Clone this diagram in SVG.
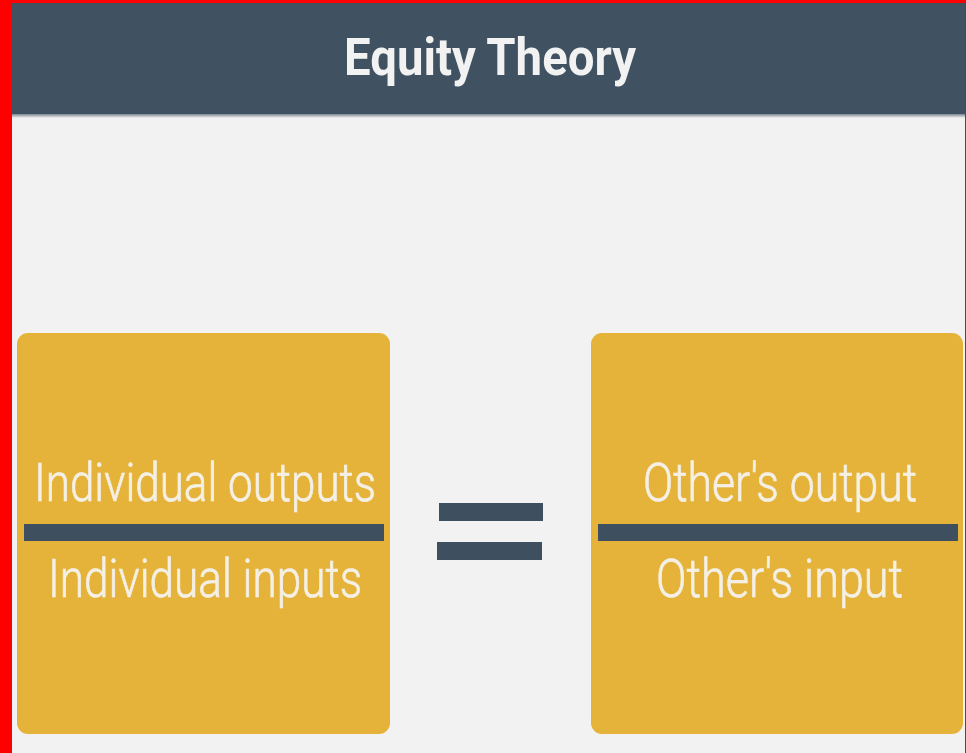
<svg xmlns="http://www.w3.org/2000/svg" width="966" height="753" viewBox="0 0 966 753">
  <style>
    .card { fill: #e6b33a; }
    .rule { fill: #3e4f5f; }
    .label { font-family: Roboto, "Liberation Sans", sans-serif; font-weight: 300; font-size: 54px; fill: #f4f0e6; stroke: #f4f0e6; stroke-width: 0.7px; }
    .title { font-family: Roboto, "Liberation Sans", sans-serif; font-weight: 700; font-size: 52px; fill: #f2f2f2; }
  </style>
  <defs>
    <linearGradient id="headShadow" x1="0" y1="0" x2="0" y2="1">
      <stop offset="0" stop-color="#7a8691"/>
      <stop offset="1" stop-color="#f2f2f2"/>
    </linearGradient>
  </defs>

  <!-- page background and frame -->
  <rect x="0" y="0" width="966" height="753" fill="#f2f2f2"/>
  <rect x="0" y="0" width="12" height="753" fill="#ff0000"/>
  <rect x="0" y="0" width="966" height="3" fill="#ff0000"/>
  <rect x="965" y="0" width="1" height="753" fill="#ff0000"/>

  <!-- header band -->
  <g id="header">
    <rect x="12" y="3" width="953" height="111" fill="#405161"/>
    <rect x="12" y="114" width="953" height="4" fill="url(#headShadow)"/>
    <text class="title" x="344" y="75" textLength="292" lengthAdjust="spacingAndGlyphs">Equity Theory</text>
  </g>

  <!-- individual ratio -->
  <g id="individual">
    <rect class="card" x="17" y="333" width="373" height="401" rx="11"/>
    <text class="label" x="34" y="501" textLength="342" lengthAdjust="spacingAndGlyphs">Individual outputs</text>
    <rect class="rule" x="24" y="524" width="360" height="17"/>
    <text class="label" x="48" y="597" textLength="314" lengthAdjust="spacingAndGlyphs">Individual inputs</text>
  </g>

  <!-- equals sign -->
  <g id="equals">
    <rect class="rule" x="439" y="503" width="104" height="18"/>
    <rect class="rule" x="437" y="542" width="105" height="18"/>
  </g>

  <!-- comparison ratio -->
  <g id="other">
    <rect class="card" x="591" y="333" width="372" height="401" rx="11"/>
    <text class="label" x="643" y="501" textLength="274" lengthAdjust="spacingAndGlyphs">Other's output</text>
    <rect class="rule" x="598" y="524" width="360" height="17"/>
    <text class="label" x="656" y="597" textLength="247" lengthAdjust="spacingAndGlyphs">Other's input</text>
  </g>
</svg>
